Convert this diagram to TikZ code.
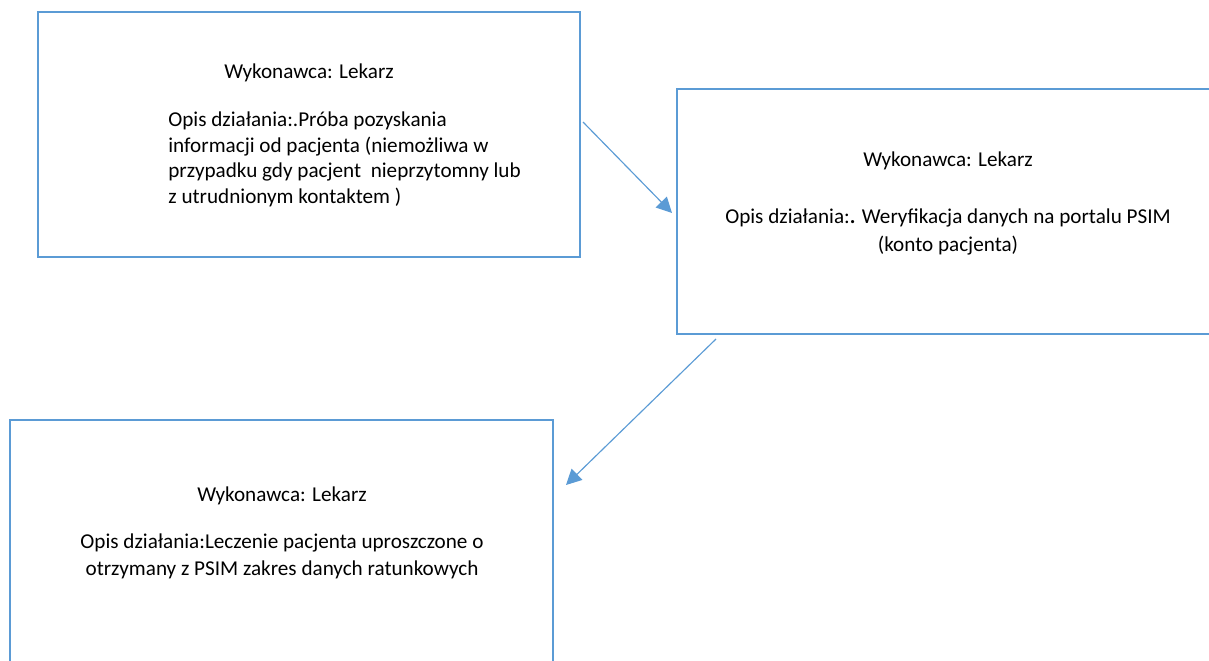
\documentclass[tikz,border=0pt]{standalone}
\usepackage{fontspec}
\setmainfont{Carlito}
\usepackage{xcolor}
\usetikzlibrary{arrows.meta,fit}
\definecolor{WBlue}{HTML}{5B9BD5}

\begin{document}
\begin{tikzpicture}[
  x=0.52pt,y=-0.52pt,
  box/.style={draw=WBlue,line width=1.5pt,inner sep=0pt},
  ttl/.style={inner sep=0pt,anchor=base,font=\fontsize{11}{13.4}\selectfont},
  txt/.style={inner sep=0pt,font=\fontsize{11}{13.5}\selectfont},
  arr/.style={-{Triangle[length=8pt,width=8pt]},line width=0.6pt,color=WBlue}
]
  \useasboundingbox (0,0) rectangle (1209,661);
  \clip (0,0) rectangle (1209,661);
  \node[box,fit={(38,12) (580,257)}] (proba) {};
  \node[box,fit={(677,89) (1219,334)}] (psim) {};
  \node[box,fit={(10,420) (553,665)}] (leczenie) {};
  \node[ttl] (probaT) at (309,78) {Wykonawca: Lekarz};
  \node[txt,anchor=north west,align=left] (probaD) at (168,111)
    {Opis działania:.Próba pozyskania\\informacji od pacjenta (niemożliwa w\\
     przypadku gdy pacjent~ nieprzytomny lub\\z utrudnionym kontaktem )};
  \node[ttl] (psimT) at (948,166) {Wykonawca: Lekarz};
  \node[txt,anchor=north,align=center,font=\fontsize{11}{14.6}\selectfont] (psimD) at (948,208)
    {Opis działania:\textbf{.} Weryfikacja danych na portalu PSIM\\(konto pacjenta)};
  \node[ttl] (leczenieT) at (282,501) {Wykonawca: Lekarz};
  \node[txt,anchor=north,align=center,font=\fontsize{11}{14.4}\selectfont] (leczenieD) at (282,533)
    {Opis działania:Leczenie pacjenta uproszczone o\\otrzymany z PSIM zakres danych ratunkowych};
  \coordinate (probaOut) at (583,122);
  \coordinate (psimIn) at (672,213);
  \coordinate (psimOut) at (716,339);
  \coordinate (leczenieIn) at (566,485);
  \foreach \x/\y in {probaOut/psimIn,psimOut/leczenieIn}
    {\draw[arr] (\x) -- (\y);}
\end{tikzpicture}
\end{document}
